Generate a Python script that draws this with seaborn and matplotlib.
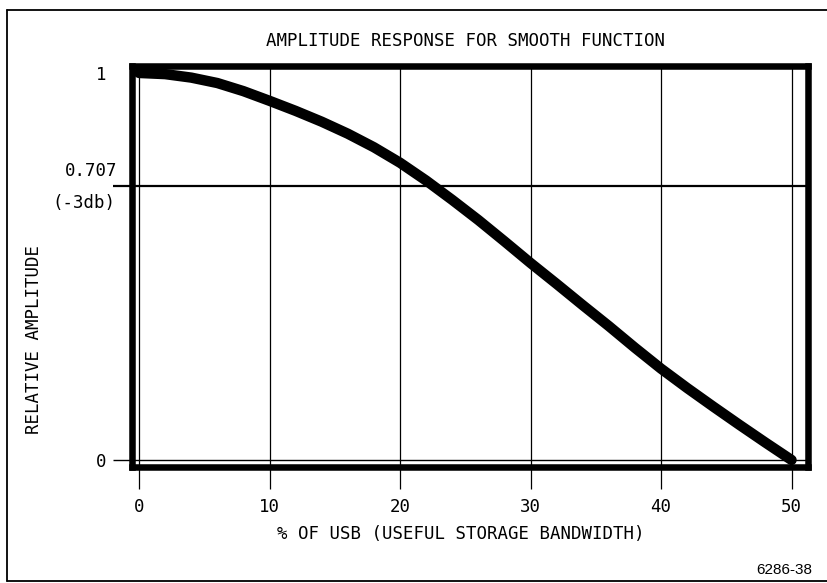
import matplotlib
matplotlib.use("Agg")
import matplotlib.pyplot as plt
import pandas as pd
import seaborn as sns
from matplotlib.lines import Line2D

# Relative amplitude vs. percent of useful storage bandwidth
pct_usb = [0, 2, 4, 6, 8, 10, 12, 14, 16, 18, 20, 22, 24, 26,
           28, 30, 32, 34, 36, 38, 40, 42, 44, 46, 48, 50]
rel_amp = [1.0, 0.997, 0.988, 0.974, 0.953, 0.928, 0.902, 0.874, 0.843,
           0.808, 0.768, 0.722, 0.672, 0.620, 0.565, 0.509, 0.455,
           0.400, 0.346, 0.290, 0.236, 0.186, 0.138, 0.091, 0.045, 0.0]

x_ticks = [0, 10, 20, 30, 40, 50]
y_ticks = [0, 0.707, 1]
y_tick_labels = ["0", "", "1"]
half_power_level = 0.707
half_power_labels = ["0.707", "(-3db)"]

title = "AMPLITUDE RESPONSE FOR SMOOTH FUNCTION"
x_label = "% OF USB (USEFUL STORAGE BANDWIDTH)"
y_label = "RELATIVE AMPLITUDE"
fig_id = "6286-38"

sns.set_theme(style="white")
plt.rcParams["font.family"] = ["DejaVu Sans Mono", "DejaVu Sans"]
plt.rcParams["text.color"] = "black"
plt.rcParams["axes.labelcolor"] = "black"

W, H = 828, 583
fig = plt.figure(figsize=(W / 100, H / 100), dpi=100)
fig.patch.set_facecolor("white")


def fx(px):
    return px / W


def fy(py):
    return 1 - py / H


ax = fig.add_axes([fx(132), fy(466.5), fx(808.5) - fx(132), fy(66) - fy(466.5)])
ax.set_facecolor("white")

df = pd.DataFrame({"pct": pct_usb, "amp": rel_amp})
sns.lineplot(data=df, x="pct", y="amp", ax=ax, color="black",
             linewidth=7.5, solid_capstyle="round", solid_joinstyle="round",
             zorder=5)

ax.set_xlim(-0.54, 51.3)
ax.set_ylim(-0.0168, 1.018)

# heavy frame around the plot area
for s in ax.spines.values():
    s.set_visible(True)
    s.set_color("black")
    s.set_linewidth(4.7)
    s.set_capstyle("projecting")

# x axis: ticks that run on as full-height grid lines
ax.set_xticks(x_ticks)
ax.set_xticklabels([str(v) for v in x_ticks])
ax.tick_params(axis="x", bottom=True, direction="out", length=16,
               width=0.9, color="black", pad=7, labelsize=12.5,
               labelcolor="black")
ax.grid(axis="x", color="black", linewidth=0.9)
ax.grid(axis="y", visible=False)

# y axis: zero, -3 dB and unity levels
ax.set_yticks(y_ticks)
ax.set_yticklabels(y_tick_labels)
ax.tick_params(axis="y", left=True, direction="out", length=13.7,
               width=1.0, color="black", pad=5, labelsize=12.5,
               labelcolor="black")
yt = ax.yaxis.get_major_ticks()
yt[1].tick1line.set_markeredgewidth(1.6)
yt[2].tick1line.set_visible(False)
yt[2].label1.set_va("center_baseline")

ax.axhline(0, color="black", linewidth=1.0, zorder=1)
ax.axhline(half_power_level, color="black", linewidth=1.6, zorder=1)

ytrans = ax.get_yaxis_transform()
ax.annotate(half_power_labels[0], xy=(0, half_power_level), xycoords=ytrans,
            xytext=(-10.8, 10.8), textcoords="offset points",
            ha="right", va="center", fontsize=12.5, color="black")
ax.annotate(half_power_labels[1], xy=(0, half_power_level), xycoords=ytrans,
            xytext=(-12.2, -12.2), textcoords="offset points",
            ha="right", va="center", fontsize=12.5, color="black")

ax.set_xlabel(x_label, fontsize=12.5, color="black")
ax.xaxis.set_label_coords((461 - 132) / 676.5, (466.5 - 534) / 400.5)
ax.xaxis.label.set_va("center")

ax.set_ylabel(y_label, fontsize=12.5, color="black")
ax.yaxis.set_label_coords((34.5 - 132) / 676.5, (466.5 - 340) / 400.5)
ax.yaxis.label.set_va("center")
ax.yaxis.label.set_ha("center")

fig.text(fx(466), fy(41), title, ha="center", va="center", fontsize=12.5,
         color="black")
fig.text(fx(812), fy(570), fig_id, ha="right", va="center",
         fontsize=11, family=["Liberation Sans", "DejaVu Sans"], color="black")

# outer border of the sheet
for xs, ys in [([fx(7), fx(7)], [fy(10), fy(581)]),
               ([fx(7), 1.0], [fy(10), fy(10)]),
               ([fx(7), 1.0], [fy(581), fy(581)])]:
    fig.add_artist(Line2D(xs, ys, transform=fig.transFigure,
                          color="black", linewidth=1.3))

fig.savefig("out.png", dpi=100)
